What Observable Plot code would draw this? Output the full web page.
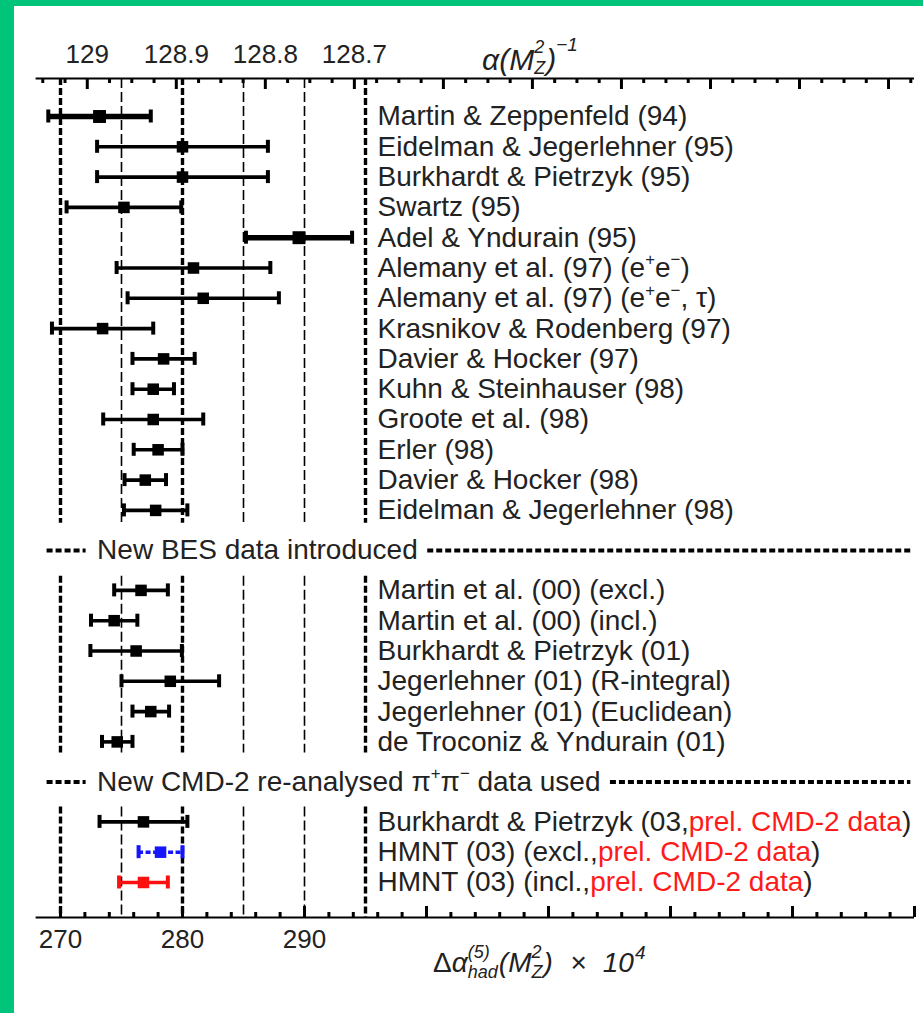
<!DOCTYPE html>
<html><head><meta charset="utf-8">
<script src="https://cdn.jsdelivr.net/npm/d3@7"></script>
<script src="https://cdn.jsdelivr.net/npm/@observablehq/plot@0.6"></script>
<style>
html,body{margin:0;padding:0;background:#00c47a;width:923px;height:1013px;overflow:hidden;}
#wrap{position:absolute;left:14px;top:6px;width:909px;height:1007px;background:#fff;}
</style></head><body><div id="wrap"></div>
<script>
// ---------------- DATA ----------------
// Section 1: before BES data
const labels1 = [
  "Martin & Zeppenfeld (94)",
  "Eidelman & Jegerlehner (95)",
  "Burkhardt & Pietrzyk (95)",
  "Swartz (95)",
  "Adel & Yndurain (95)",
  "Alemany et al. (97) (e^{+}e^{−})",
  "Alemany et al. (97) (e^{+}e^{−}, τ)",
  "Krasnikov & Rodenberg (97)",
  "Davier & Hocker (97)",
  "Kuhn & Steinhauser (98)",
  "Groote et al. (98)",
  "Erler (98)",
  "Davier & Hocker (98)",
  "Eidelman & Jegerlehner (98)"
];
const values1 = [273.2, 280.0, 280.0, 275.2, 289.55, 280.9, 281.7, 273.45, 278.45, 277.6, 277.6, 278.0, 276.95, 277.8];
const errors1 = [4.2, 7.0, 7.0, 4.7, 4.35, 6.3, 6.2, 4.15, 2.55, 1.7, 4.1, 2.0, 1.7, 2.6];

// Section 2: after BES data
const labels2 = [
  "Martin et al. (00) (excl.)",
  "Martin et al. (00) (incl.)",
  "Burkhardt & Pietrzyk (01)",
  "Jegerlehner (01) (R-integral)",
  "Jegerlehner (01) (Euclidean)",
  "de Troconiz & Yndurain (01)"
];
const values2 = [276.6, 274.4, 276.2, 279.0, 277.4, 274.65];
const errors2 = [2.2, 1.9, 3.75, 4.0, 1.5, 1.25];

// Section 3: CMD-2 re-analysed data
const labels3 = [
  "Burkhardt & Pietrzyk (03,[[prel. CMD-2 data]])",
  "HMNT (03) (excl.,[[prel. CMD-2 data]])",
  "HMNT (03) (incl.,[[prel. CMD-2 data]])"
];
const values3 = [276.8, 278.2, 276.8];
const errors3 = [3.6, 1.8, 2.0];

const separatorLabels = ["New BES data introduced", "New CMD-2 re-analysed π^{+}π^{−} data used"];

const bottomTickLabels = [270, 280, 290];
const topTickLabels = [129, 128.9, 128.8, 128.7];
const gridThick = [270, 280, 295];
const gridThin = [275, 285, 290];

const xTitle = "Δα(5)had(MZ2) × 10^4";
const topTitle = "α(MZ2)^-1";

// ---------------- LAYOUT / STYLE ----------------
const FONT = '"Liberation Sans", Arial, Helvetica, sans-serif';
const W = 909, H = 1007, ML = 21.6, MR = 9, MT = 72, MB = 96;
const X_DOMAIN = [268, 340];
const ROW_PX = 30.3;
const GAP = 1.64;
const pxPerUnit = (W - ML - MR) / (X_DOMAIN[1] - X_DOMAIN[0]);
const px = p => p / ROW_PX;                // pixels -> row units
const yTop = -px(38);
const yBottom = yTop + px(H - MT - MB);

// α(MZ²)^-1 <-> Δα_had conversion (top axis)
const ALPHA0_INV = 137.036, D_LEP = 0.031498, D_TOP = -0.000076;
const toDelta = a => (1 - D_LEP - D_TOP - a / ALPHA0_INV) * 1e4;

const sections = [
  {labels: labels1, values: values1, errors: errors1},
  {labels: labels2, values: values2, errors: errors2},
  {labels: labels3, values: values3, errors: errors3}
];
const rows = [];
let gi = 0;
sections.forEach((sec, s) => sec.labels.forEach((label, k) => {
  rows.push({label, value: sec.values[k], err: sec.errors[k], y: gi + s * GAP, s});
  gi++;
}));
const sepY = [0, 1].map(s => {
  const a = rows.filter(r => r.s === s), b = rows.filter(r => r.s === s + 1);
  return (a[a.length - 1].y + b[0].y) / 2;
});

const thickRows = new Set([labels1[0], labels1[4]]);
const seriesColor = {[labels3[1]]: "#1515ff", [labels3[2]]: "#ff1010"};
const dashedRows = new Set([labels3[1]]);
const colorOf = d => seriesColor[d.label] || "#000";

// grid segments (broken at the section separators)
const segs = [[yTop, sepY[0] - 0.9], [sepY[0] + 0.85, sepY[1] - 0.95], [sepY[1] + 0.83, yBottom]];
const gridSegs = xs => xs.flatMap(x => segs.map(([y1, y2]) => ({x, y1, y2})));

// ticks
const bottomTicks = d3.range(X_DOMAIN[0] + 2, X_DOMAIN[1] + 0.1, 2).map(t => ({t, major: t % 10 === 0}));
const topTicks = d3.range(0, 60).map(i => +(129.05 - i * 0.025).toFixed(3))
  .filter(a => toDelta(a) <= X_DOMAIN[1] - 0.3)
  .map(a => ({t: toDelta(a), major: Math.abs(a * 10 - Math.round(a * 10)) < 1e-6}));

// rich text helpers
const canvas = document.createElement("canvas").getContext("2d");
function measure(t, size, italic) { canvas.font = `${italic ? "italic " : ""}${size}px ${FONT}`; return canvas.measureText(t).width; }
function parseRich(s, base) {
  const out = []; const re = /\^\{([^}]*)\}|_\{([^}]*)\}|\[\[([^\]]*)\]\]/g; let last = 0, m;
  while ((m = re.exec(s))) {
    if (m.index > last) out.push({t: s.slice(last, m.index), size: base, shift: 0});
    if (m[1] != null) out.push({t: m[1], size: base * 0.6, shift: -base * 0.42});
    else if (m[2] != null) out.push({t: m[2], size: base * 0.6, shift: base * 0.22});
    else out.push({t: m[3], size: base, shift: 0, fill: "#ff1a1a"});
    last = re.lastIndex;
  }
  if (last < s.length) out.push({t: s.slice(last), size: base, shift: 0});
  return out;
}
const richWidth = segs => d3.sum(segs, g => measure(g.t, g.size, g.italic) + (g.dx || 0));
function buildRich(el, segs) {
  while (el.firstChild) el.removeChild(el.firstChild);
  let cur = 0;
  for (const g of segs) {
    const ts = document.createElementNS("http://www.w3.org/2000/svg", "tspan");
    ts.textContent = g.t;
    ts.setAttribute("font-size", g.size);
    const dy = g.shift - cur; if (dy) ts.setAttribute("dy", dy); cur = g.shift;
    if (g.dx) ts.setAttribute("dx", g.dx);
    if (g.fill) ts.setAttribute("fill", g.fill);
    if (g.italic) ts.setAttribute("font-style", "italic");
    if (g.upright) ts.setAttribute("font-style", "normal");
    el.appendChild(ts);
  }
}
// stacked super/sub script helper
function stacked(sup, sub, size, supShift, subShift, italic) {
  const w1 = measure(sup, size, italic), w2 = measure(sub, size, italic);
  return [
    {t: sup, size, shift: supShift, italic},
    {t: sub, size, shift: subShift, italic, dx: -w1, after: Math.max(0, w1 - w2)}
  ];
}
function fixAfter(segs) { // add leftover advance from stacked scripts
  for (let i = 1; i < segs.length; i++) if (segs[i - 1].after) segs[i].dx = (segs[i].dx || 0) + segs[i - 1].after;
  return segs;
}
const topTitleSegs = fixAfter([
  {t: "α(M", size: 30, shift: 0, italic: true},
  ...stacked("2", "Z", 18, -17, 4, true),
  {t: ")", size: 30, shift: 0, italic: true, dx: 1},
  {t: "−1", size: 19, shift: -19, italic: true}
]);
const xTitleSegs = fixAfter([
  {t: "Δ", size: 28, shift: 0, upright: true},
  {t: "α", size: 28, shift: 0, italic: true},
  ...stacked("(5)", "had", 18, -14, 6, true),
  {t: "(M", size: 28, shift: 0, italic: true, dx: 1},
  ...stacked("2", "Z", 18, -14, 6, true),
  {t: ")", size: 28, shift: 0, italic: true, dx: 1},
  {t: " × ", size: 28, shift: 0, upright: true, dx: 10},
  {t: "10", size: 28, shift: 0, italic: true, dx: 8},
  {t: "4", size: 19, shift: -13, italic: true, dx: 1}
]);

// separators
const SEP_TEXT_X = 273.0, SEP_LEFT = [268.9, 272.1], SEP_RIGHT_END = 339.7;
const sepData = separatorLabels.map((label, i) => {
  const w = richWidth(parseRich(label, 28));
  return {label, y: sepY[i], rx1: SEP_TEXT_X + (w + 10) / pxPerUnit};
});

const LABEL_X = gridThick[2];
const capH = px(6.5);
const TEXT = "#222";

function barMarks(data, color, width, dash, r) {
  if (!data.length) return [];
  return [
    Plot.ruleY(data, {x1: d => d.value - d.err, x2: d => d.value + d.err, y: "y", stroke: color, strokeWidth: width, strokeDasharray: dash}),
    Plot.ruleX(data, {x: d => d.value - d.err, y1: d => d.y - capH, y2: d => d.y + capH, stroke: color, strokeWidth: 4}),
    Plot.ruleX(data, {x: d => d.value + d.err, y1: d => d.y - capH, y2: d => d.y + capH, stroke: color, strokeWidth: 4}),
    Plot.dot(data, {x: "value", y: "y", symbol: "square", r, fill: color, stroke: "none"})
  ];
}
const groups = d3.groups(rows, d => `${colorOf(d)}|${thickRows.has(d.label) ? 1 : 0}|${dashedRows.has(d.label) ? 1 : 0}`);
const bars = groups.flatMap(([key, data]) => {
  const [color, thick, dashed] = key.split("|");
  return barMarks(data, color, thick === "1" ? 5.5 : 3.6, dashed === "1" ? "5,2.5" : null, thick === "1" ? 7.3 : 6.5);
});

const plot = Plot.plot({
  width: W, height: H,
  marginLeft: ML, marginRight: MR, marginTop: MT, marginBottom: MB,
  style: {fontFamily: FONT, background: "white", overflow: "visible"},
  x: {domain: X_DOMAIN, axis: null},
  y: {domain: [yTop, yBottom], reverse: true, axis: null},
  marks: [
    // vertical reference lines
    Plot.ruleX(gridSegs(gridThick), {x: "x", y1: "y1", y2: "y2", stroke: "#000", strokeWidth: 3.4, strokeDasharray: "7,3"}),
    Plot.ruleX(gridSegs(gridThin), {x: "x", y1: "y1", y2: "y2", stroke: "#000", strokeWidth: 1.6, strokeDasharray: "10,4"}),
    // axes lines
    Plot.ruleY([yTop, yBottom], {y: d => d, x1: X_DOMAIN[0], x2: X_DOMAIN[1], stroke: "#000", strokeWidth: 2}),
    // bottom ticks
    Plot.ruleX(bottomTicks, {x: "t", y1: yBottom, y2: d => yBottom - px(d.major ? 11 : 5), stroke: "#000", strokeWidth: 3}),
    // top ticks
    Plot.ruleX(topTicks, {x: "t", y1: yTop, y2: d => yTop + px(d.major ? 11 : 5), stroke: "#000", strokeWidth: 3}),
    // tick labels
    Plot.text(bottomTickLabels, {x: d => d, y: yBottom, dy: 22, text: d => String(d), fontSize: 26, fill: TEXT}),
    Plot.text(topTickLabels, {x: d => toDelta(d), y: yTop, dy: -24, text: d => String(d), fontSize: 26, fill: TEXT}),
    // axis titles
    Plot.text([topTitle], {frameAnchor: "top-left", dx: 446, dy: -30, text: d => d, textAnchor: "start", fontSize: 30, fill: TEXT}),
    Plot.text([xTitle], {frameAnchor: "bottom-left", dx: 397, dy: 54, text: d => d, textAnchor: "start", fontSize: 28, fill: TEXT}),
    // separators
    Plot.ruleY(sepData, {y: "y", x1: SEP_LEFT[0], x2: SEP_LEFT[1], stroke: "#000", strokeWidth: 4, strokeDasharray: "6,3"}),
    Plot.ruleY(sepData, {y: "y", x1: "rx1", x2: SEP_RIGHT_END, stroke: "#000", strokeWidth: 4, strokeDasharray: "6,3"}),
    Plot.text(sepData, {x: () => SEP_TEXT_X, y: "y", text: "label", textAnchor: "start", fontSize: 28, fill: TEXT}),
    // error bars
    ...bars,
    // row labels
    Plot.text(rows, {x: () => LABEL_X, y: "y", dx: 12, text: "label", textAnchor: "start", fontSize: 28, fill: TEXT})
  ]
});

// rich text post-processing (superscripts, subscripts, red parts)
d3.select(plot).selectAll("text").each(function () {
  const t = this.textContent;
  if (t === topTitle) buildRich(this, topTitleSegs);
  else if (t === xTitle) buildRich(this, xTitleSegs);
  else if (/\^\{|_\{|\[\[/.test(t)) buildRich(this, parseRich(t, 28));
});
document.getElementById("wrap").appendChild(plot);
</script></body></html>
